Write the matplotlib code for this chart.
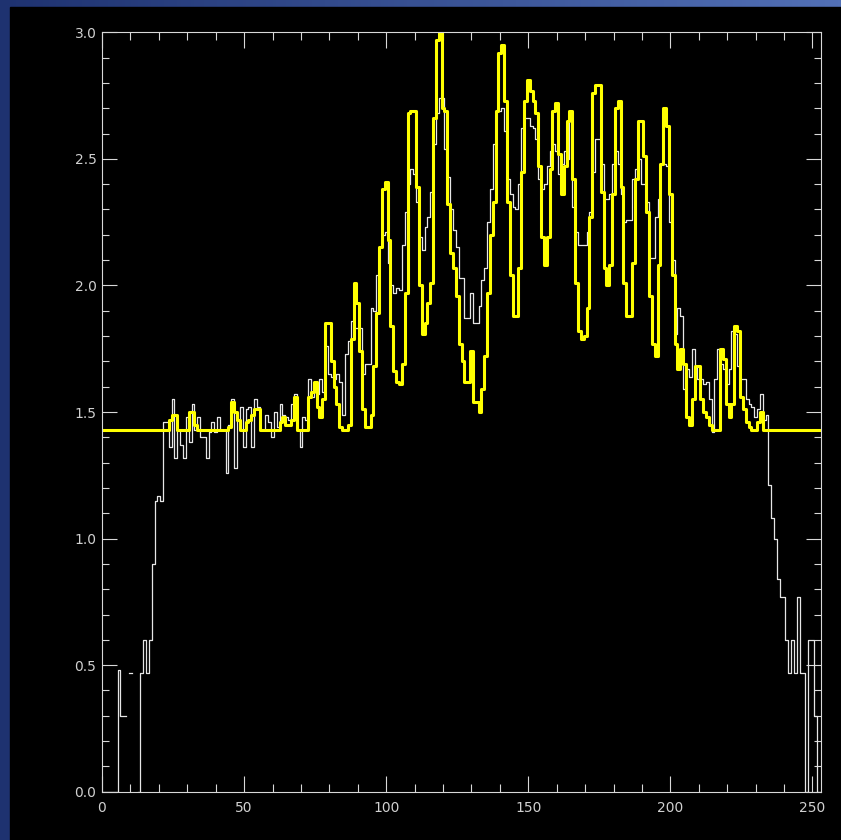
import numpy as np
import matplotlib
matplotlib.use("Agg")
import matplotlib.pyplot as plt
from matplotlib.patches import Rectangle
from matplotlib.ticker import MultipleLocator, FormatStrFormatter

nan = np.nan

# raw profile (white) and smoothed/fitted profile (yellow), one value per pixel column
white = [
    0.00, 0.00, 0.00, 0.00, 0.00, 0.00, 0.48, 0.30, 0.30, nan,
    0.47, nan, nan, 0.00, 0.47, 0.60, 0.47, 0.60, 0.90, 1.15,
    1.17, 1.15, 1.46, 1.46, 1.36, 1.55, 1.32, 1.43, 1.37, 1.32,
    1.48, 1.38, 1.53, 1.43, 1.48, 1.40, 1.40, 1.32, 1.42, 1.46,
    1.42, 1.48, 1.43, 1.43, 1.26, 1.45, 1.55, 1.28, 1.47, 1.52,
    1.36, 1.51, 1.52, 1.36, 1.55, 1.52, 1.43, 1.43, 1.49, 1.46,
    1.40, 1.50, 1.44, 1.53, 1.49, 1.48, 1.47, 1.53, 1.57, 1.43,
    1.36, 1.48, 1.47, 1.63, 1.56, 1.59, 1.57, 1.63, 1.58, 1.76,
    1.65, 1.64, 1.63, 1.65, 1.62, 1.49, 1.73, 1.78, 1.86, 1.83,
    1.83, 1.83, 1.65, 1.69, 1.69, 1.91, 1.90, 2.04, 2.15, 2.20,
    2.21, 2.09, 2.00, 1.97, 1.99, 1.98, 2.16, 2.29, 2.40, 2.46,
    2.44, 2.33, 2.19, 2.14, 2.23, 2.27, 2.37, 2.56, 2.68, 2.74,
    2.74, 2.54, 2.43, 2.30, 2.22, 2.15, 2.03, 2.03, 1.87, 1.87,
    1.97, 1.85, 1.85, 1.92, 2.02, 2.07, 2.25, 2.38, 2.56, 2.69,
    2.69, 2.70, 2.61, 2.42, 2.36, 2.31, 2.30, 2.40, 2.62, 2.66,
    2.66, 2.63, 2.62, 2.58, 2.42, 2.38, 2.40, 2.47, 2.53, 2.56,
    2.53, 2.44, 2.48, 2.53, 2.50, 2.65, 2.31, 2.21, 2.16, 2.16,
    2.16, 2.21, 2.29, 2.45, 2.58, 2.58, 2.48, 2.34, 2.34, 2.36,
    2.48, 2.53, 2.48, 2.36, 2.25, 2.26, 2.26, 2.42, 2.46, 2.50,
    2.40, 2.40, 2.33, 2.11, 2.11, 2.27, 2.34, 2.48, 2.48, 2.47,
    2.25, 2.10, 1.81, 1.91, 1.88, 1.59, 1.67, 1.64, 1.75, 1.68,
    1.63, 1.63, 1.61, 1.62, 1.55, 1.42, 1.63, 1.75, 1.69, 1.67,
    1.61, 1.67, 1.82, 1.81, 1.68, 1.63, 1.63, 1.55, 1.53, 1.52,
    1.48, 1.51, 1.57, 1.47, 1.49, 1.21, 1.08, 1.00, 0.84, 0.77,
    0.77, 0.60, 0.47, 0.60, 0.47, 0.77, 0.47, 0.47, 0.00, 0.60,
    0.60, 0.30, 0.00, 0.00,
]

yellow = [
    1.43, 1.43, 1.43, 1.43, 1.43, 1.43, 1.43, 1.43, 1.43, 1.43,
    1.43, 1.43, 1.43, 1.43, 1.43, 1.43, 1.43, 1.43, 1.43, 1.43,
    1.43, 1.43, 1.43, 1.43, 1.47, 1.49, 1.49, 1.43, 1.43, 1.43,
    1.43, 1.50, 1.50, 1.45, 1.43, 1.43, 1.43, 1.43, 1.43, 1.43,
    1.43, 1.43, 1.43, 1.43, 1.43, 1.44, 1.54, 1.50, 1.47, 1.43,
    1.43, 1.46, 1.47, 1.49, 1.51, 1.51, 1.43, 1.43, 1.43, 1.43,
    1.43, 1.43, 1.43, 1.46, 1.48, 1.45, 1.45, 1.47, 1.56, 1.43,
    1.43, 1.43, 1.43, 1.56, 1.58, 1.62, 1.52, 1.48, 1.55, 1.85,
    1.85, 1.70, 1.60, 1.53, 1.44, 1.43, 1.43, 1.45, 1.79, 2.01,
    1.93, 1.74, 1.51, 1.44, 1.44, 1.49, 1.68, 1.89, 2.15, 2.38,
    2.41, 2.18, 1.84, 1.66, 1.62, 1.61, 1.69, 1.97, 2.68, 2.69,
    2.69, 2.39, 2.00, 1.81, 1.85, 1.93, 2.01, 2.66, 2.97, 3.00,
    2.70, 2.69, 2.32, 2.13, 2.07, 1.96, 1.77, 1.70, 1.62, 1.62,
    1.74, 1.54, 1.54, 1.50, 1.59, 1.72, 1.97, 2.20, 2.33, 2.69,
    2.92, 2.95, 2.73, 2.33, 2.04, 1.88, 1.88, 2.07, 2.45, 2.73,
    2.81, 2.77, 2.73, 2.68, 2.47, 2.19, 2.08, 2.19, 2.46, 2.69,
    2.72, 2.52, 2.36, 2.47, 2.65, 2.69, 2.42, 2.01, 1.82, 1.79,
    1.80, 1.91, 2.27, 2.76, 2.79, 2.79, 2.37, 2.07, 2.00, 2.08,
    2.36, 2.70, 2.73, 2.39, 2.01, 1.88, 1.88, 2.09, 2.42, 2.65,
    2.65, 2.51, 2.29, 1.96, 1.77, 1.72, 2.08, 2.48, 2.70, 2.63,
    2.36, 2.04, 1.77, 1.67, 1.75, 1.69, 1.48, 1.45, 1.55, 1.68,
    1.68, 1.55, 1.50, 1.48, 1.45, 1.43, 1.43, 1.43, 1.75, 1.71,
    1.53, 1.48, 1.53, 1.84, 1.82, 1.56, 1.51, 1.46, 1.44, 1.43,
    1.43, 1.46, 1.50, 1.43, 1.43, 1.43, 1.43, 1.43, 1.43, 1.43,
    1.43, 1.43, 1.43, 1.43, 1.43, 1.43, 1.43, 1.43, 1.43, 1.43,
    1.43, 1.43, 1.43, 1.43,
]

xticks = [0, 50, 100, 150, 200, 250]
yticks = [0.0, 0.5, 1.0, 1.5, 2.0, 2.5, 3.0]

W, H = 841, 840
fig = plt.figure(figsize=(W / 100, H / 100), dpi=100)

# blue slide background with a black panel over it
bg = fig.add_axes([0, 0, 1, 1])
bg.set_axis_off()
t = np.linspace(0, 1, 256)
c0 = np.array([30, 50, 112]) / 255
c1 = np.array([82, 112, 182]) / 255
grad = (c0[None, :] * (1 - t[:, None]) + c1[None, :] * t[:, None])[None, :, :]
bg.imshow(grad, aspect="auto", extent=[0, 1, 0, 1])
bg.add_patch(Rectangle((10 / W, 0), 1, 1 - 7 / H, color="black"))
bg.set_xlim(0, 1)
bg.set_ylim(0, 1)

ax = fig.add_axes([102 / W, (H - 791.7) / H, (821 - 102) / W, (791.7 - 32.3) / H])
ax.set_facecolor("black")

x = np.arange(len(white))
ax.step(x, white, where="mid", color="#e6e6e6", lw=0.9)
ax.step(x, yellow, where="mid", color="#ffff00", lw=2.2)

ax.set_xlim(0, 253)
ax.set_ylim(0, 3)
ax.set_xticks(xticks)
ax.set_yticks(yticks)
ax.xaxis.set_minor_locator(MultipleLocator(10))
ax.yaxis.set_minor_locator(MultipleLocator(0.1))
ax.yaxis.set_major_formatter(FormatStrFormatter("%.1f"))

axis_col = "#d8d8d8"
ax.tick_params(which="both", direction="in", top=True, right=True,
               color=axis_col, labelcolor="#d0d0d0", width=0.8, labelsize=10)
ax.tick_params(axis="x", which="major", length=11.5, pad=7)
ax.tick_params(axis="x", which="minor", length=6)
ax.tick_params(axis="y", which="major", length=10.5, pad=4)
ax.tick_params(axis="y", which="minor", length=5.3)
for s in ax.spines.values():
    s.set_color(axis_col)
    s.set_linewidth(0.8)

fig.savefig("out.png", dpi=100)
